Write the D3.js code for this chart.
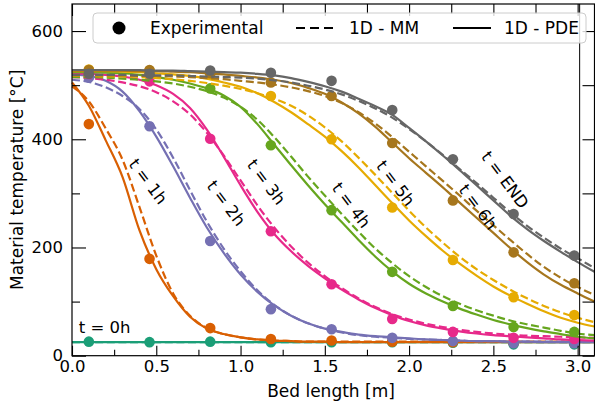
<!DOCTYPE html>
<html><head><meta charset="utf-8">
<script src="https://cdn.jsdelivr.net/npm/d3@7"></script>
<style>body{margin:0;background:#fff}svg{display:block;font-family:"DejaVu Sans",sans-serif}</style>
</head><body><svg id="c" width="595" height="412"></svg>
<script>
// ---------------- data ----------------
const seriesNames = ["t = 0h","t = 1h","t = 2h","t = 3h","t = 4h","t = 5h","t = 6h","t = END"];
const colors = ["#1b9e77","#d95f02","#7570b3","#e7298a","#66a61e","#e6ab02","#a6761d","#666666"];
const gridX = [0,0.1,0.2,0.3,0.4,0.5,0.6,0.7,0.8,0.9,1.0,1.1,1.2,1.3,1.4,1.5,1.6,1.7,1.8,1.9,2.0,2.1,2.2,2.3,2.4,2.5,2.6,2.7,2.8,2.9,3.0,3.1];
// 1D - PDE (solid)
const pde0h = [25,25,25,25,25,25,25,25,25,25,25,25,25,25,25,25,25,25,25,25,25,25,25,25,25,25,25,25,25,25,25,25];
const pde1h = [505,462,398,330,232,160,110,72,50,40,34,30,28,27,26,26,25,25,25,25,25,25,25,25,25,25,25,25,25,25,25,25];
const pde2h = [520,517,508,488,452,405,350,292,237,190,150,118,93,74,60,50,44,39,36,34,32,30,29,28,27,27,26,26,25,25,25,25];
const pde3h = [522,521,519,516,510,500,484,458,418,368,315,266,225,193,166,143,122,104,88,75,64,56,50,45,41,38,36,34,32,30,29,28];
const pde4h = [524,524,523,522,519,515,510,503,494,481,460,428,390,352,315,280,247,214,183,156,133,115,100,87,76,66,58,51,45,40,35,32];
const pde5h = [526,526,526,525,524,522,520,517,512,505,497,485,469,450,428,405,378,348,315,282,250,221,194,170,148,128,111,96,82,70,61,54];
const pde6h = [527,527,527,527,526,526,525,524,522,520,517,514,510,504,495,484,468,448,423,394,365,338,311,283,255,227,199,173,150,131,115,100];
const pdeEnd = [528,528,528,528,528,527,527,526,525,524,523,521,518,513,506,498,488,475,461,445,421,396,370,343,315,287,259,234,212,192,173,155];
// 1D - MM (dashed)
const mm0h = [25,25,25,25,25,25,25,25,25,25,25,25,25,25,25,25,25,25,25,25,25,25,25,25,25,25,25,25,25,25,25,25];
const mm1h = [498,470,420,362,275,185,115,74,51,40,34,30,28,27,26,26,26,26,26,26,26,26,26,26,26,26,26,26,26,26,26,26];
const mm2h = [510,506,496,480,456,418,366,306,248,198,156,121,94,74,60,50,43,38,35,33,31,30,29,28,27,27,26,26,26,26,26,26];
const mm3h = [515,513,510,505,498,487,470,446,412,370,324,278,237,202,172,147,125,106,90,77,67,59,53,48,44,41,39,37,36,35,34,33];
const mm4h = [515,515,514,512,510,507,503,497,489,477,460,436,404,368,331,296,262,229,198,171,147,127,110,96,84,74,65,58,52,46,41,38];
const mm5h = [517,517,516,516,515,513,511,508,504,499,493,485,475,462,444,422,396,366,334,301,268,237,209,183,160,140,122,106,92,80,70,62];
const mm6h = [518,518,518,518,517,517,516,515,513,511,508,505,501,496,489,480,467,450,429,404,377,350,323,296,268,241,214,188,164,144,127,112];
const mmEnd = [519,519,519,519,518,518,518,517,516,515,514,512,509,505,499,492,483,471,457,440,419,396,371,345,319,292,265,240,218,198,180,162];
// Experimental points
const expX = [0.1,0.46,0.82,1.18,1.54,1.9,2.26,2.62,2.98];
const exp0h = [26,25,26,25,25,25,24,21,21];
const exp1h = [428,179,51,31,28,26,25,24,24];
const exp2h = [514,424,212,86,49,33,27,23,23];
const exp3h = [522,507,401,230,132,68,44,33,31];
const exp4h = [525,520,494,389,269,155,92,53,44];
const exp5h = [529,527,520,480,400,274,177,108,75];
const exp6h = [528,528,522,505,480,393,287,191,134];
const expEnd = [521,521,527,523,508,454,363,262,185];
// tick labels
const xTicks = [0,0.5,1.0,1.5,2.0,2.5,3.0];
const xMinor = [0.25,0.75,1.25,1.75,2.25,2.75];
const yTicks = [0,200,400,600];
const yMinor = [100,300,500];
// annotation anchors (data coords) for rotated labels
const labelX = [null,0.452,0.915,1.153,1.658,1.92,2.41,2.57];
const labelY = [null,322,282,321,278,319,275,325];

const pdeAll=[pde0h,pde1h,pde2h,pde3h,pde4h,pde5h,pde6h,pdeEnd];
const mmAll=[mm0h,mm1h,mm2h,mm3h,mm4h,mm5h,mm6h,mmEnd];
const expAll=[exp0h,exp1h,exp2h,exp3h,exp4h,exp5h,exp6h,expEnd];

// ---------------- chart ----------------
const svg=d3.select("#c");
const L=72,R=594.5,T=4,B=355.7;
const x=d3.scaleLinear().domain([0,3.1]).range([L,R]);
const y=d3.scaleLinear().domain([0,650]).range([B,T]);
const FS=16.5;

const line=d3.line().x(d=>x(d[0])).y(d=>y(d[1])).curve(d3.curveMonotoneX);
const g=svg.append("g");
for(let i=0;i<seriesNames.length;i++){
  g.append("path").datum(gridX.map((v,j)=>[v,mmAll[i][j]])).attr("d",line)
   .attr("fill","none").attr("stroke",colors[i]).attr("stroke-width",2.2).attr("stroke-dasharray","8,3.6");
  g.append("path").datum(gridX.map((v,j)=>[v,pdeAll[i][j]])).attr("d",line)
   .attr("fill","none").attr("stroke",colors[i]).attr("stroke-width",2.2);
  g.selectAll(null).data(expX.map((v,j)=>[v,expAll[i][j]])).enter().append("circle")
   .attr("cx",d=>x(d[0])).attr("cy",d=>y(d[1])).attr("r",5.3).attr("fill",colors[i]);
}
// vertical line at bed end
svg.append("line").attr("x1",x(3.0)+2).attr("x2",x(3.0)+2).attr("y1",T).attr("y2",B).attr("stroke","#000").attr("stroke-width",1);

// axes
function styleAxis(sel){sel.select(".domain").remove();sel.selectAll("line").attr("stroke","#000").attr("stroke-width",1.1);
  sel.selectAll("text").attr("font-size",FS).attr("fill","#000").attr("font-family","DejaVu Sans");}
svg.append("g").attr("transform",`translate(0,${B})`)
  .call(d3.axisBottom(x).tickValues(xTicks).tickFormat(d3.format(".1f")).tickSize(-10).tickPadding(5)).call(styleAxis);
svg.append("g").attr("transform",`translate(0,${B})`)
  .call(d3.axisBottom(x).tickValues(xMinor).tickFormat("").tickSize(-6)).call(styleAxis);
svg.append("g").attr("transform",`translate(0,${T})`)
  .call(d3.axisTop(x).tickValues(xTicks).tickFormat("").tickSize(-12)).call(styleAxis);
svg.append("g").attr("transform",`translate(0,${T})`)
  .call(d3.axisTop(x).tickValues(xMinor).tickFormat("").tickSize(-10)).call(styleAxis);
svg.append("g").attr("transform",`translate(${L},0)`)
  .call(d3.axisLeft(y).tickValues(yTicks).tickFormat(d3.format("d")).tickSize(-14).tickPadding(9)).call(styleAxis);
svg.append("g").attr("transform",`translate(${L},0)`)
  .call(d3.axisLeft(y).tickValues(yMinor).tickFormat("").tickSize(-8)).call(styleAxis);
svg.append("g").attr("transform",`translate(${R},0)`)
  .call(d3.axisRight(y).tickValues(yTicks.concat(yMinor)).tickFormat("").tickSize(-12)).call(styleAxis);
// frame
svg.append("rect").attr("x",L).attr("y",T).attr("width",R-L).attr("height",B-T)
  .attr("fill","none").attr("stroke","#000").attr("stroke-width",1.2);

// axis titles
svg.append("text").attr("x",(L+590)/2).attr("y",397).attr("text-anchor","middle").attr("font-size",17).text("Bed length [m]");
svg.append("text").attr("transform",`translate(23,${(T+B)/2}) rotate(-90)`).attr("text-anchor","middle").attr("font-size",17).text("Material temperature [°C]");

// annotations
svg.append("text").attr("x",x(0.04)).attr("y",y(42)).attr("font-size",FS).text(seriesNames[0]);
for(let i=1;i<seriesNames.length;i++){
  svg.append("text").attr("transform",`translate(${x(labelX[i])},${y(labelY[i])}) rotate(53)`)
    .attr("text-anchor","middle").attr("dy","0.35em").attr("font-size",FS).text(seriesNames[i]);
}

// legend
const lg=svg.append("g");
lg.append("rect").attr("x",93).attr("y",13).attr("width",493).attr("height",30).attr("rx",4)
  .attr("fill","#fff").attr("fill-opacity",0.8).attr("stroke","#cccccc").attr("stroke-width",1);
lg.append("circle").attr("cx",119).attr("cy",28).attr("r",6.5).attr("fill","#000");
lg.append("text").attr("x",150).attr("y",34).attr("font-size",17).text("Experimental");
lg.append("line").attr("x1",296).attr("x2",336).attr("y1",28).attr("y2",28).attr("stroke","#000").attr("stroke-width",2.2).attr("stroke-dasharray","9,5");
lg.append("text").attr("x",349).attr("y",34).attr("font-size",17).text("1D - MM");
lg.append("line").attr("x1",453).attr("x2",491).attr("y1",28).attr("y2",28).attr("stroke","#000").attr("stroke-width",2.2);
lg.append("text").attr("x",504).attr("y",34).attr("font-size",17).text("1D - PDE");
</script></body></html>
